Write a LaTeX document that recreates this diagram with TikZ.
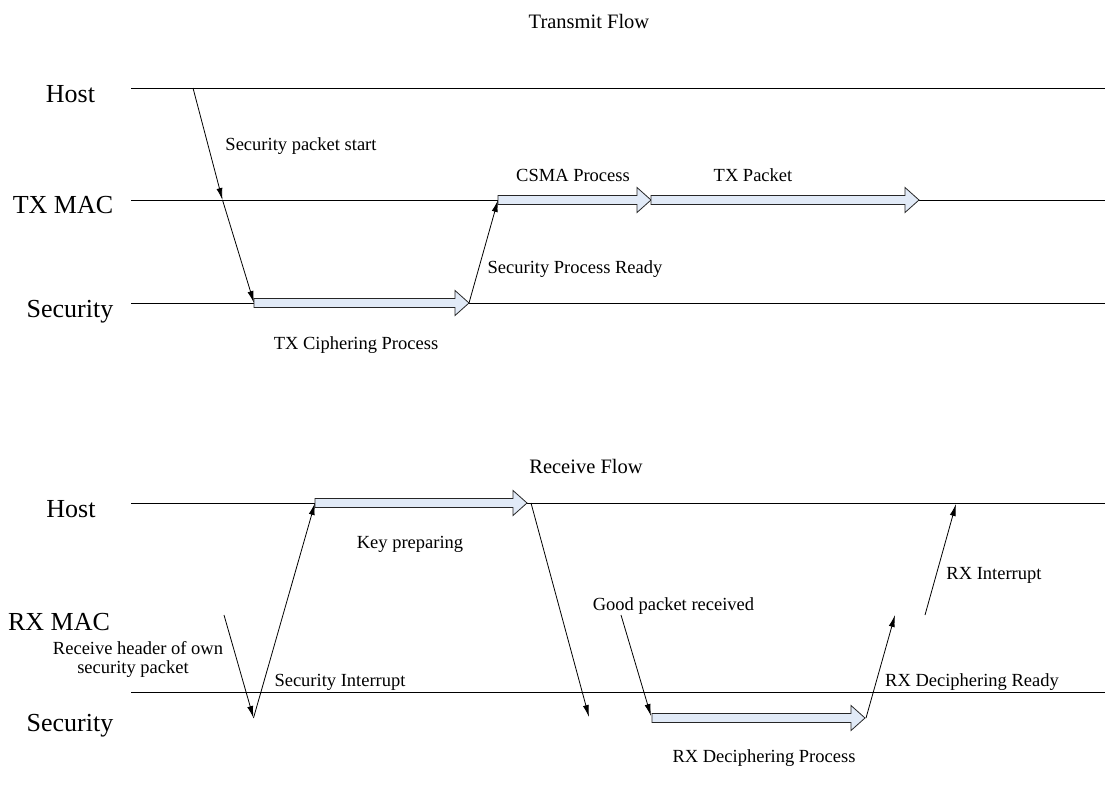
\documentclass[tikz,border=0pt]{standalone}
\usepackage{fontspec}
\setmainfont{Liberation Serif}
\usetikzlibrary{arrows.meta}
\definecolor{blkfill}{RGB}{225,234,247}
\tikzset{
  lane/.style={line width=0.9pt, black},
  msg/.style={line width=0.8pt, -{Latex[length=12pt,width=6pt]}},
  blk/.style={line width=0.8pt, draw=black!85, fill=blkfill, line join=miter},
  biglabel/.style={anchor=base, inner sep=0pt, font=\fontsize{26}{28}\selectfont},
  smalllabel/.style={anchor=base, inner sep=0pt, font=\fontsize{18.5}{21}\selectfont},
  titlelabel/.style={anchor=base, inner sep=0pt, font=\fontsize{20.5}{23}\selectfont},
}
\newcommand{\blkarrow}[3]{% start x, end x, y
  \draw[blk] (#1,#3-4.5) -- (#2-14,#3-4.5) -- (#2-14,#3-12.5) -- (#2,#3)
    -- (#2-14,#3+12.5) -- (#2-14,#3+4.5) -- (#1,#3+4.5) -- cycle;}
\begin{document}
\begin{tikzpicture}[x=1pt, y=-1pt]
\useasboundingbox (0,0) rectangle (1105,792);
% ---------------- Transmit flow ----------------
\node[titlelabel] (ttx) at (589,29) {Transmit Flow};
\node[biglabel] (lhost) at (70.5,102.7) {Host};
\node[biglabel] (ltxmac) at (63,213) {TX MAC};
\node[biglabel] (lsec) at (70,317) {Security};
\coordinate (h1) at (131,88);   \coordinate (h2) at (1105,88);
\coordinate (m1) at (131,200);  \coordinate (m2) at (1105,200);
\coordinate (s1) at (131,303);  \coordinate (s2) at (1105,303);
\draw[lane] (h1) -- (h2);
\draw[lane] (m1) -- (m2);
\draw[lane] (s1) -- (s2);
\coordinate (a0) at (193,88);
\coordinate (a1) at (222.5,200);
\coordinate (a2) at (254,303);
\coordinate (a3) at (469,303);
\coordinate (a4) at (498,200);
\draw[msg] (a0) -- (a1);
\draw[msg] (a1) -- (a2);
\blkarrow{254}{469}{303}
\draw[msg] (a3) -- (a4);
\blkarrow{498}{651}{200}
\blkarrow{651}{919}{200}
\node[smalllabel] (tsps) at (301,150.7) {Security packet start};
\node[smalllabel] (ttxc) at (356,349) {TX Ciphering Process};
\node[smalllabel] (tcsma) at (573,181.7) {CSMA Process};
\node[smalllabel] (ttxp) at (753,181.7) {TX Packet};
\node[smalllabel] (tspr) at (575,273) {Security Process Ready};
% ---------------- Receive flow ----------------
\node[titlelabel] (trx) at (586,473) {Receive Flow};
\node[biglabel] (rhost) at (71,517.3) {Host};
\node[biglabel] (rrxmac) at (59,630) {RX MAC};
\node[biglabel] (rsec) at (70,731.7) {Security};
\coordinate (rh1) at (131,503);  \coordinate (rh2) at (1105,503);
\coordinate (rs1) at (131,692);  \coordinate (rs2) at (1105,692);
\draw[lane] (rh1) -- (rh2);
\draw[lane] (rs1) -- (rs2);
\coordinate (b0) at (224,615);
\coordinate (b1) at (253.5,718);
\coordinate (b2) at (315,503);
\coordinate (b3) at (531,503);
\coordinate (b4) at (589,717);
\coordinate (c0) at (621,615);
\coordinate (c1) at (651,716);
\coordinate (c2) at (866,718);
\coordinate (c3) at (895,615);
\coordinate (d0) at (925,615);
\coordinate (d1) at (956,504);
\draw[msg] (b0) -- (b1);
\draw[msg] (b1) -- (b2);
\blkarrow{315}{527}{503}
\draw[msg] (b3) -- (b4);
\draw[msg] (c0) -- (c1);
\blkarrow{652}{865}{718}
\draw[msg] (c2) -- (c3);
\draw[msg] (d0) -- (d1);
\node[smalllabel] (trh1) at (138,654) {Receive header of own};
\node[smalllabel] (trh2) at (133,673.3) {security packet};
\node[smalllabel] (tsi) at (340,686) {Security Interrupt};
\node[smalllabel] (tkp) at (410,548) {Key preparing};
\node[smalllabel] (tgp) at (673.5,610.7) {Good packet received};
\node[smalllabel] (trdr) at (972,686) {RX Deciphering Ready};
\node[smalllabel] (trxi) at (994,579) {RX Interrupt};
\node[smalllabel] (trdp) at (764,762.7) {RX Deciphering Process};
\end{tikzpicture}
\end{document}
